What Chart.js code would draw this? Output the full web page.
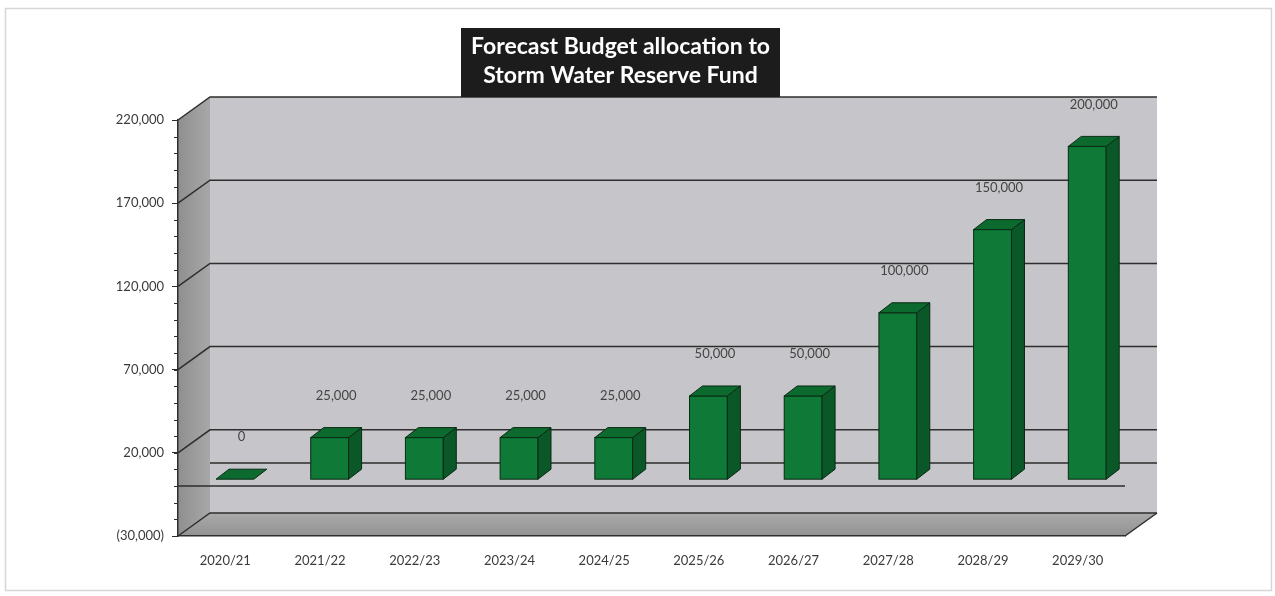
<!DOCTYPE html>
<html lang="en">
<head>
    <meta charset="UTF-8">
    <title>Forecast Budget allocation to Storm Water Reserve Fund</title>
    <script src="https://cdn.jsdelivr.net/npm/chart.js"></script>
    <style>
        body { margin: 0; background: #fff; }
        .chart-box { width: 1275px; height: 596px; }
    </style>
</head>
<body>
    <div class="chart-box"><canvas id="fundChart"></canvas></div>

    <script>
        // financial years and the amount put into the reserve each year
        const years = ['2020/21', '2021/22', '2022/23', '2023/24', '2024/25', '2025/26', '2026/27', '2027/28', '2028/29', '2029/30'];
        const allocations = [0, 25000, 25000, 25000, 25000, 50000, 50000, 100000, 150000, 200000];
        const axisTicks = [-30000, 20000, 70000, 120000, 170000, 220000];
        const minorStep = 10000;
        const titleLines = ['Forecast Budget allocation to', 'Storm Water Reserve Fund'];

        const FONT = 'Lato, "Open Sans", sans-serif';
        const depth = { dx: 32, dy: -23 };      // front plane -> back wall
        const barFront = 0.3;                   // where the bar front face sits in the depth
        const barDepth = { dx: 13, dy: -10 };   // thickness of each bar

        function money(v) {
            const s = Math.abs(v).toLocaleString('en-US');
            return v < 0 ? '(' + s + ')' : s;
        }

        // grey box: back wall, left wall and floor with the grid lines
        const wallsPlugin = {
            id: 'walls',
            beforeDraw(chart) {
                const { ctx, chartArea: a, scales } = chart;
                const y = scales.y;
                const L = a.left, R = a.right, T = a.top, B = a.bottom;
                const dx = depth.dx, dy = depth.dy;
                ctx.save();
                ctx.fillStyle = '#fff';
                ctx.fillRect(0, 0, chart.width, chart.height);

                // page frame
                ctx.strokeStyle = '#d6d6d6';
                ctx.lineWidth = 1.5;
                ctx.strokeRect(5.5, 8.5, 1266, 582);

                // back wall
                ctx.fillStyle = '#c6c6ca';
                ctx.fillRect(L + dx, T + dy, R - L, B - T);

                // left wall
                let g = ctx.createLinearGradient(L, 0, L + dx, 0);
                g.addColorStop(0, '#8f8f8f');
                g.addColorStop(1, '#a8a8a8');
                ctx.fillStyle = g;
                ctx.beginPath();
                ctx.moveTo(L, T);
                ctx.lineTo(L + dx, T + dy);
                ctx.lineTo(L + dx, B + dy);
                ctx.lineTo(L, B);
                ctx.closePath();
                ctx.fill();

                // floor
                g = ctx.createLinearGradient(0, B + dy, 0, B);
                g.addColorStop(0, '#aaaaaa');
                g.addColorStop(1, '#929292');
                ctx.fillStyle = g;
                ctx.beginPath();
                ctx.moveTo(L, B);
                ctx.lineTo(L + dx, B + dy);
                ctx.lineTo(R + dx, B + dy);
                ctx.lineTo(R, B);
                ctx.closePath();
                ctx.fill();

                ctx.strokeStyle = '#2e2e2e';
                ctx.lineWidth = 1.5;
                // major grid lines on back wall + left wall
                axisTicks.forEach(v => {
                    const py = y.getPixelForValue(v);
                    ctx.beginPath();
                    ctx.moveTo(L, py);
                    ctx.lineTo(L + dx, py + dy);
                    ctx.lineTo(R + dx, py + dy);
                    ctx.stroke();
                });
                // floor right edge
                ctx.beginPath();
                ctx.moveTo(R + dx, B + dy);
                ctx.lineTo(R, B);
                ctx.stroke();

                // zero line on the back wall and at the front
                const zy = y.getPixelForValue(0);
                ctx.beginPath();
                ctx.moveTo(L + dx, zy + dy);
                ctx.lineTo(R + dx, zy + dy);
                ctx.moveTo(L, zy);
                ctx.lineTo(R, zy);
                ctx.stroke();

                // minor ticks on the value axis
                ctx.lineWidth = 1;
                for (let v = axisTicks[0]; v <= axisTicks[axisTicks.length - 1]; v += minorStep) {
                    const py = Math.round(y.getPixelForValue(v)) + 0.5;
                    ctx.beginPath();
                    ctx.moveTo(L - 4, py);
                    ctx.lineTo(L, py);
                    ctx.stroke();
                }

                // title box
                ctx.fillStyle = '#1c1c1c';
                ctx.fillRect(461, 28, 319, 69);
                ctx.fillStyle = '#fff';
                ctx.font = 'bold 23px ' + FONT;
                ctx.textAlign = 'center';
                ctx.textBaseline = 'middle';
                titleLines.forEach((t, i) => ctx.fillText(t, 620.5, 47 + i * 29));
                ctx.restore();
            }
        };

        // 3D bars built from the bar elements the library lays out
        const boxesPlugin = {
            id: 'boxes',
            afterDatasetsDraw(chart) {
                const { ctx } = chart;
                const meta = chart.getDatasetMeta(0);
                ctx.save();
                ctx.lineWidth = 1;
                ctx.strokeStyle = '#0b2a14';
                meta.data.forEach((el, i) => {
                    const ox = barFront * depth.dx, oy = barFront * depth.dy;
                    const l = el.x - el.width / 2 + ox, r = el.x + el.width / 2 + ox;
                    const top = el.y + oy, bot = el.base + oy;
                    const bx = barDepth.dx, by = barDepth.dy;

                    // front
                    if (bot - top > 0.5) {
                        ctx.fillStyle = '#0f7a37';
                        ctx.fillRect(l, top, r - l, bot - top);
                        ctx.strokeRect(l, top, r - l, bot - top);
                        // side
                        ctx.fillStyle = '#0a5727';
                        ctx.beginPath();
                        ctx.moveTo(r, top);
                        ctx.lineTo(r + bx, top + by);
                        ctx.lineTo(r + bx, bot + by);
                        ctx.lineTo(r, bot);
                        ctx.closePath();
                        ctx.fill();
                        ctx.stroke();
                    }
                    // top
                    ctx.fillStyle = '#0c6a2f';
                    ctx.beginPath();
                    ctx.moveTo(l, top);
                    ctx.lineTo(r, top);
                    ctx.lineTo(r + bx, top + by);
                    ctx.lineTo(l + bx, top + by);
                    ctx.closePath();
                    ctx.fill();
                    ctx.stroke();

                    // value label
                    ctx.fillStyle = '#444';
                    ctx.font = '13px ' + FONT;
                    ctx.textAlign = 'center';
                    ctx.textBaseline = 'middle';
                    ctx.fillText(money(allocations[i]), (l + r + bx) / 2, top + by - 32);
                });
                ctx.restore();
            }
        };

        new Chart(document.getElementById('fundChart'), {
            type: 'bar',
            data: {
                labels: years,
                datasets: [{
                    label: 'Allocation',
                    data: allocations,
                    backgroundColor: 'rgba(0,0,0,0)',
                    categoryPercentage: 1,
                    barPercentage: 0.4
                }]
            },
            options: {
                responsive: true,
                maintainAspectRatio: false,
                animation: false,
                layout: { padding: { left: 108, right: 150, top: 120, bottom: 20 } },
                plugins: {
                    legend: { display: false },
                    tooltip: { enabled: false }
                },
                scales: {
                    x: {
                        afterFit(s) { s.height = 40; },
                        grid: { display: false },
                        border: { display: true, color: '#2e2e2e', width: 1.5 },
                        ticks: { color: '#3a3a3a', font: { family: FONT, size: 13 }, padding: 9, maxRotation: 0 }
                    },
                    y: {
                        min: axisTicks[0],
                        max: axisTicks[axisTicks.length - 1],
                        afterFit(s) { s.width = 70; },
                        afterBuildTicks(s) { s.ticks = axisTicks.map(v => ({ value: v })); },
                        grid: { drawOnChartArea: false, color: '#2e2e2e', tickLength: 6 },
                        border: { display: true, color: '#2e2e2e', width: 1.5 },
                        ticks: {
                            color: '#3a3a3a',
                            font: { family: FONT, size: 13 },
                            padding: 8,
                            callback: v => money(v)
                        }
                    }
                }
            },
            plugins: [wallsPlugin, boxesPlugin]
        });
    </script>
</body>
</html>
